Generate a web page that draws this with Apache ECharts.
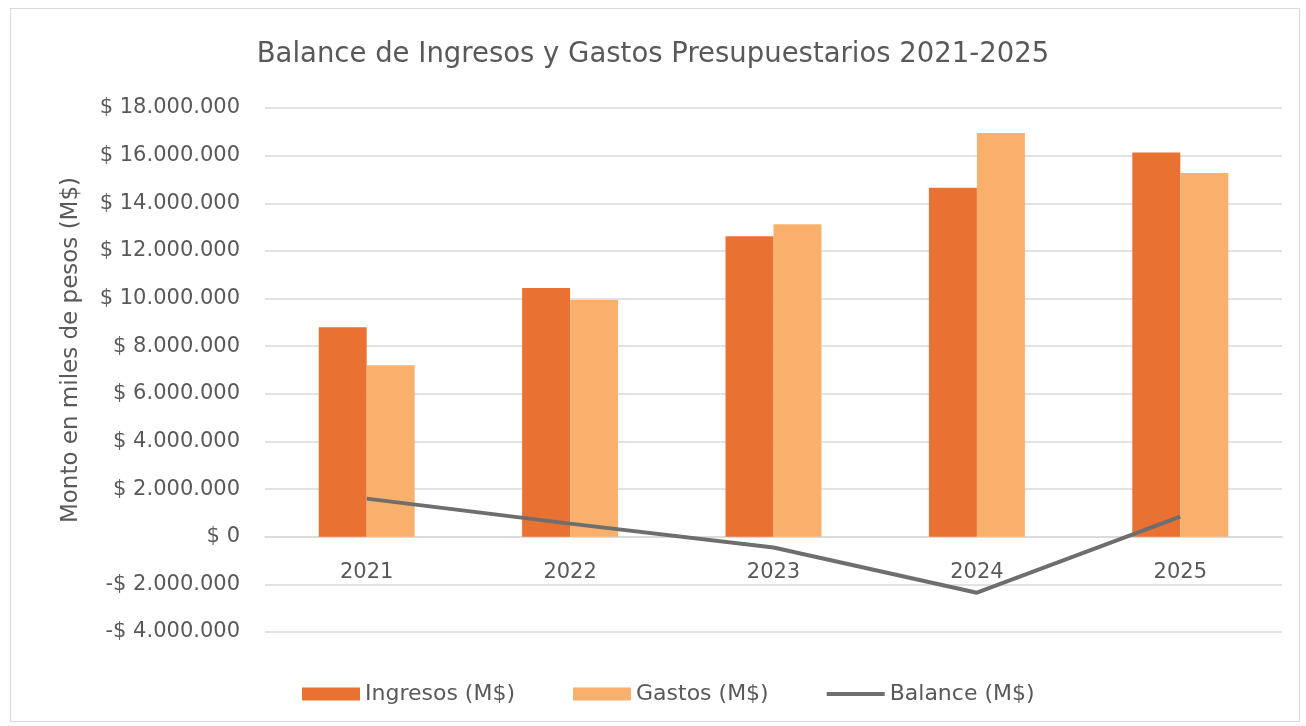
<!DOCTYPE html>
<html lang="es">
<head>
    <meta charset="UTF-8">
    <title>Balance de Ingresos y Gastos Presupuestarios 2021-2025</title>
    <script type="text/javascript" src="https://cdn.jsdelivr.net/npm/echarts@6/dist/echarts.min.js"></script>
    <style type="text/css">
        html, body { margin: 0; padding: 0; background: #ffffff; }
        #frame {
            position: absolute; left: 10px; top: 8px;
            width: 1288px; height: 712px;
            border: 1px solid #d9d9d9;
        }
        #main { position: absolute; left: 0; top: 0; width: 1306px; height: 726px; }
    </style>
</head>
<body>
    <div id="frame"></div>
    <div id="main"></div>
    <script type="text/javascript">
        var years = ['2021', '2022', '2023', '2024', '2025'];
        var ingresos = [8800000, 10440000, 12620000, 14650000, 16130000];
        var gastos = [7200000, 9940000, 13120000, 16950000, 15270000];
        var balance = [1600000, 550000, -450000, -2350000, 840000];

        var textColor = '#595959';
        var fontName = 'DejaVu Sans';
        // thin line icon for the legend (bounding box padded with empty moves)
        var lineIcon = 'path://M0,0L0,0M0,4.5L58,4.5L58,8.5L0,8.5ZM58,13L58,13';

        function money(v) {
            var s = Math.abs(v).toString().replace(/\B(?=(\d{3})+(?!\d))/g, '.');
            return (v < 0 ? '-$ ' : '$ ') + s;
        }

        var chart = echarts.init(document.getElementById('main'));
        chart.setOption({
            animation: false,
            textStyle: { fontFamily: fontName, color: textColor },
            title: {
                text: 'Balance de Ingresos y Gastos Presupuestarios 2021-2025',
                left: 'center',
                top: 36,
                textStyle: { fontFamily: fontName, fontSize: 27.5, fontWeight: 'normal', color: textColor }
            },
            grid: { left: 265, right: 24, top: 108, bottom: 94, containLabel: false },
            legend: {
                left: 297,
                top: 678,
                itemWidth: 58,
                itemHeight: 13,
                itemGap: 58,
                textStyle: { fontFamily: fontName, fontSize: 22, color: textColor },
                data: [
                    { name: 'Ingresos (M$)', icon: 'rect' },
                    { name: 'Gastos (M$)', icon: 'rect' },
                    { name: 'Balance (M$)', icon: lineIcon, itemStyle: { color: '#6e6e6e' } }
                ]
            },
            xAxis: {
                type: 'category',
                data: years,
                offset: -95,
                axisLine: { show: true, onZero: false, lineStyle: { color: '#d9d9d9', width: 1.5 } },
                axisTick: { show: false },
                axisLabel: { margin: 25, fontSize: 21, color: textColor, fontFamily: fontName }
            },
            yAxis: {
                type: 'value',
                min: -4000000,
                max: 18000000,
                interval: 2000000,
                name: 'Monto en miles de pesos (M$)',
                nameLocation: 'middle',
                nameGap: 182,
                nameTextStyle: { fontSize: 23, color: textColor, fontFamily: fontName, padding: [0, 0, 0, 40] },
                axisLine: { show: false },
                axisTick: { show: false },
                axisLabel: { margin: 25, fontSize: 21, color: textColor, fontFamily: fontName, formatter: money },
                splitLine: { lineStyle: { color: '#d9d9d9', width: 1.5 } }
            },
            series: [
                {
                    name: 'Ingresos (M$)',
                    type: 'bar',
                    data: ingresos,
                    barWidth: 48,
                    barGap: '0%',
                    itemStyle: { color: '#E97132' }
                },
                {
                    name: 'Gastos (M$)',
                    type: 'bar',
                    data: gastos,
                    barWidth: 48,
                    itemStyle: { color: '#F8B06C' }
                },
                {
                    name: 'Balance (M$)',
                    type: 'line',
                    data: balance,
                    symbol: 'none',
                    lineStyle: { color: '#6e6e6e', width: 4 },
                    itemStyle: { color: '#6e6e6e' }
                }
            ]
        });
    </script>
</body>
</html>
